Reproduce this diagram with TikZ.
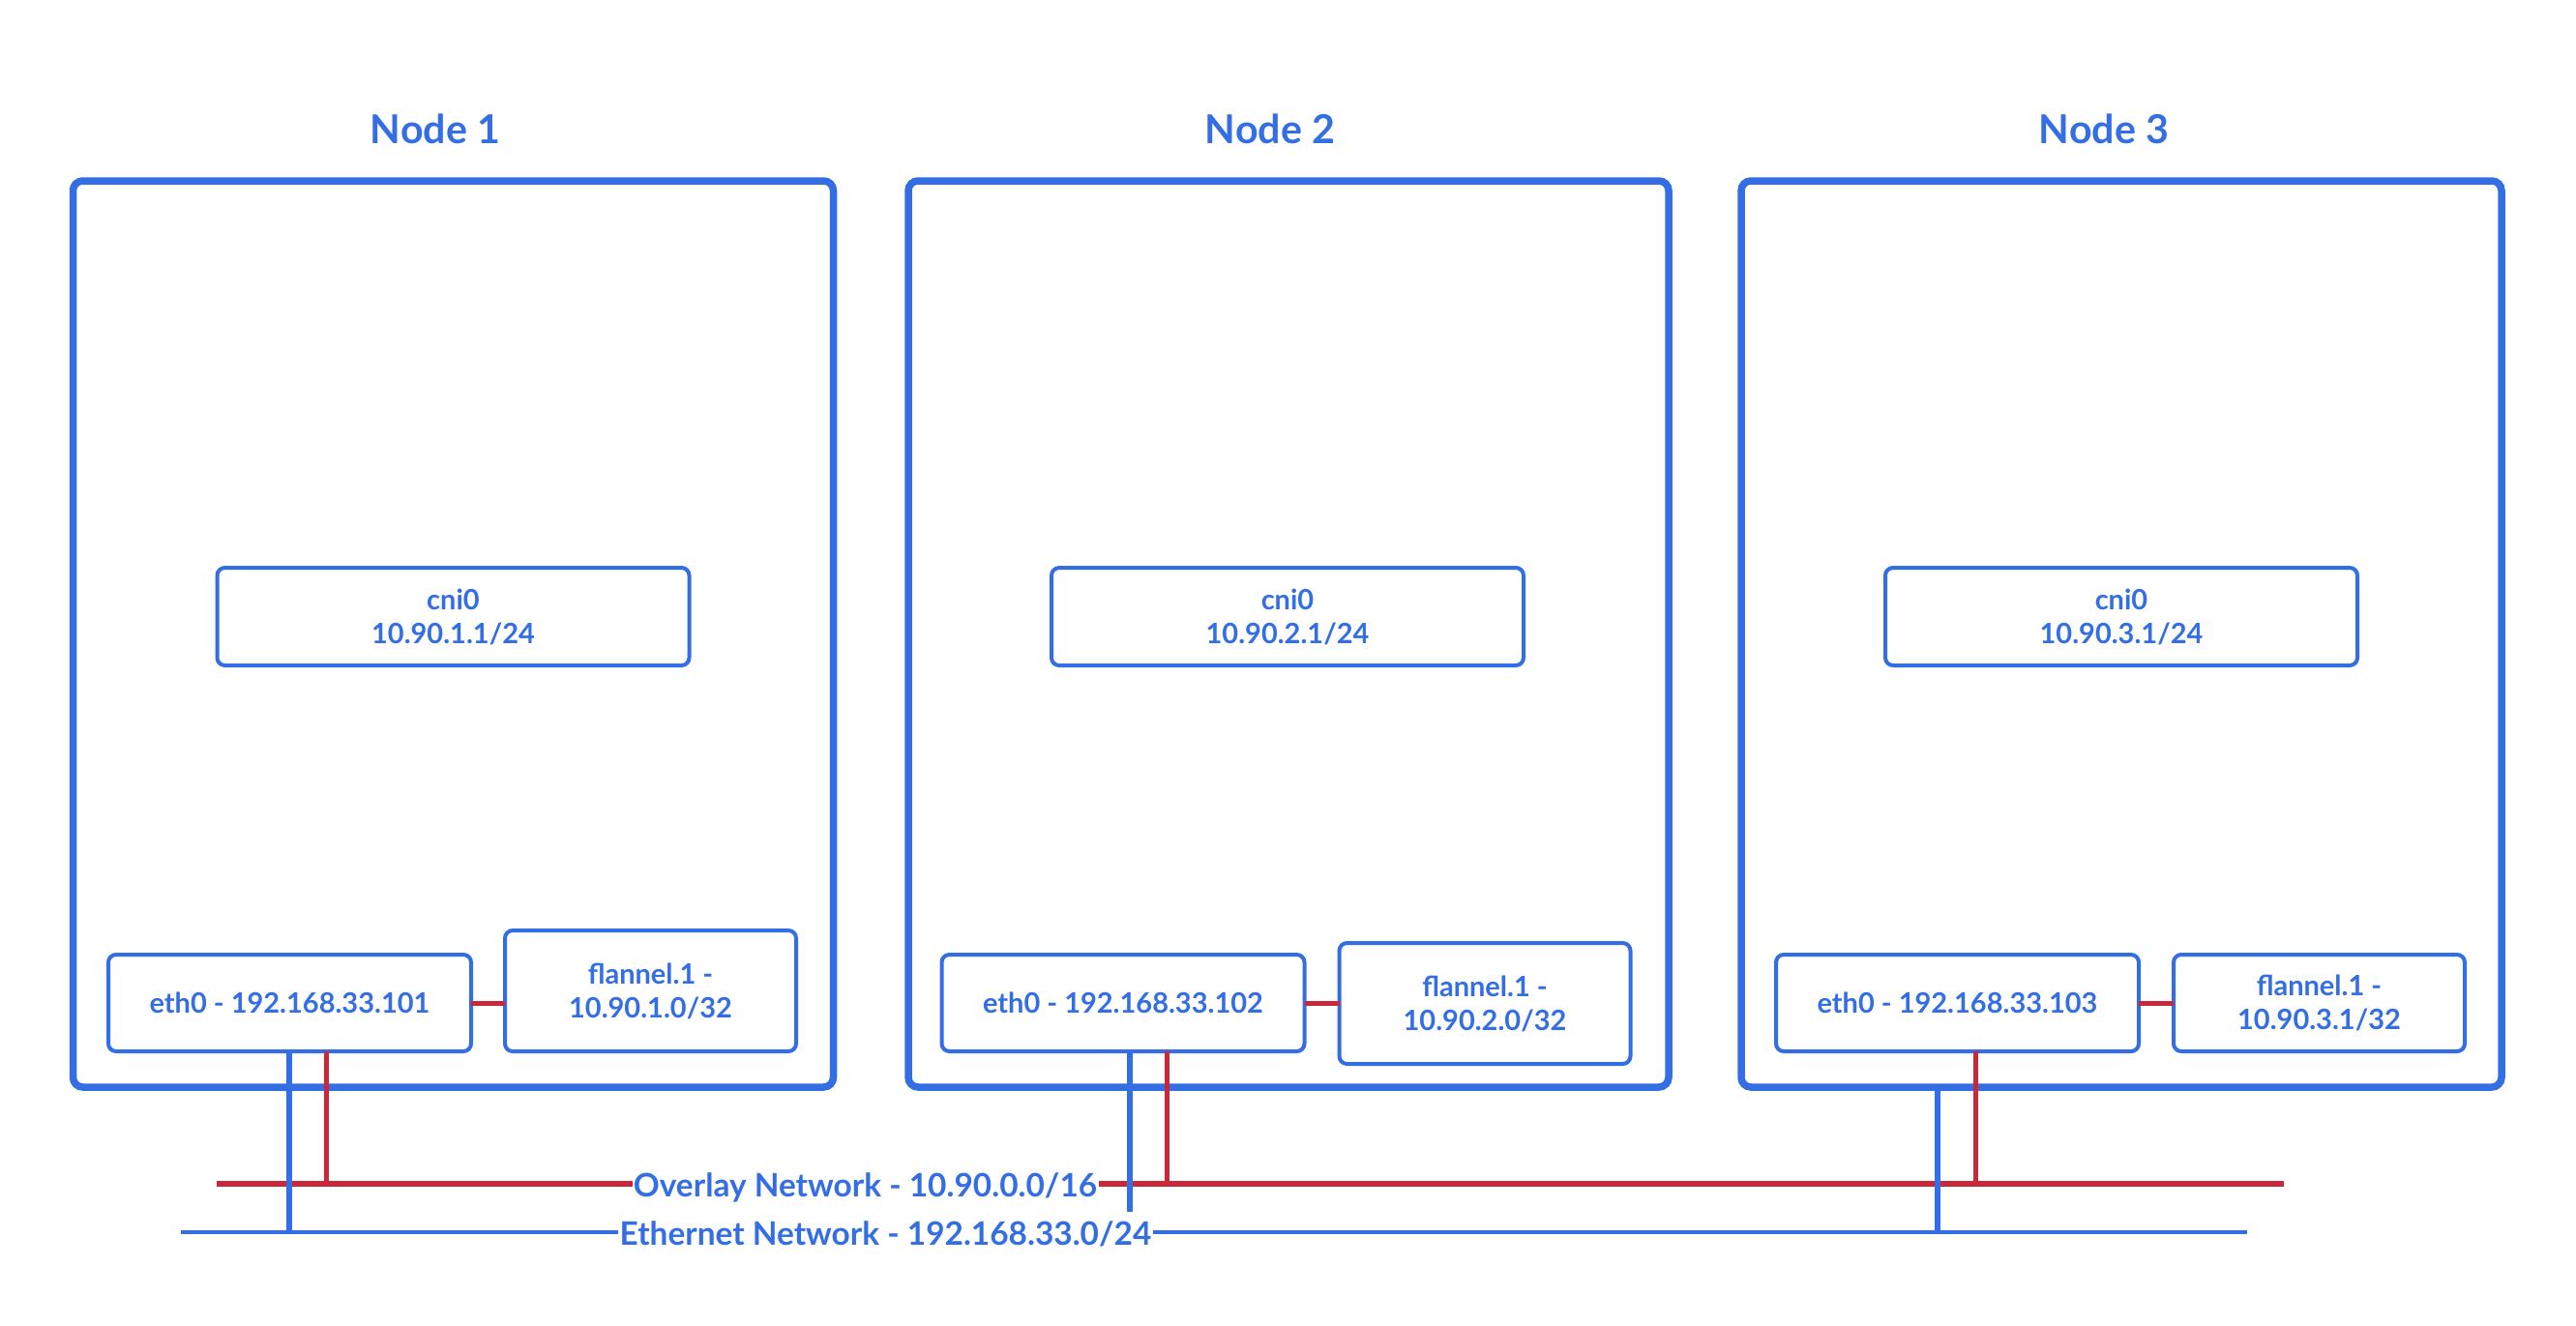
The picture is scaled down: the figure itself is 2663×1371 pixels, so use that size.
\documentclass[tikz,border=0pt]{standalone}
\usepackage{fontspec}
\setmainfont{Lato}
\definecolor{nblue}{RGB}{51,110,228}
\definecolor{nred}{RGB}{200,40,58}
\begin{document}
\begin{tikzpicture}[x=0.5pt,y=-0.5pt,
  hostbox/.style={draw=nblue, line width=3.75pt, rounded corners=5pt, minimum width=393pt, minimum height=468.5pt, inner sep=0pt, outer sep=0pt},
  ifbox/.style={draw=nblue, line width=2pt, rounded corners=4pt, inner sep=0pt, outer sep=0pt, text=nblue, font=\bfseries\fontsize{14.5}{17.5}\selectfont, align=center},
  cnibox/.style={ifbox, minimum width=244pt, minimum height=50.5pt},
  ethbox/.style={ifbox, minimum width=187.5pt, minimum height=50pt},
  flbox/.style={ifbox, minimum width=150.5pt},
  hosttitle/.style={text=nblue, font=\bfseries\fontsize{20.6}{25}\selectfont},
  netlabel/.style={text=nblue, font=\bfseries\fontsize{16.7}{20}\selectfont, inner sep=0.5pt, anchor=base},
  redlink/.style={draw=nred, line width=2.5pt},
  bluelink/.style={draw=nblue, line width=2.75pt},
  ovline/.style={draw=nred, line width=3pt},
  ethline/.style={draw=nblue, line width=2.25pt}
]
\useasboundingbox (0,0) rectangle (2663,1371);

% host boxes and titles
\node[hostbox] (n1) at (468.5,655.5) {};
\node[hostbox] (n2) at (1332,655.5) {};
\node[hostbox] (n3) at (2193,655.5) {};
\node[hosttitle] (t1) at (450,133) {Node 1};
\node[hosttitle] (t2) at (1313,133) {Node 2};
\node[hosttitle] (t3) at (2175,133) {Node 3};

% cni0 boxes
\node[cnibox] (c1) at (468.5,637.5) {cni0\\10.90.1.1/24};
\node[cnibox] (c2) at (1331,637.5) {cni0\\10.90.2.1/24};
\node[cnibox] (c3) at (2193,637.5) {cni0\\10.90.3.1/24};

% eth0 boxes
\node[ethbox] (e1) at (299.5,1037) {eth0 - 192.168.33.101};
\node[ethbox] (e2) at (1161,1037) {eth0 - 192.168.33.102};
\node[ethbox] (e3) at (2023.5,1037) {eth0 - 192.168.33.103};

% flannel boxes
\node[flbox, minimum height=62.5pt] (f1) at (672.5,1024.5) {flannel.1 -\\10.90.1.0/32};
\node[flbox, minimum height=62.5pt] (f2) at (1535,1037.5) {flannel.1 -\\10.90.2.0/32};
\node[flbox, minimum height=50pt] (f3) at (2397.5,1037) {flannel.1 -\\10.90.3.1/32};

% eth0 -- flannel links
\draw[redlink] (e1.east) -- (e1.east -| f1.west);
\draw[redlink] (e2.east) -- (e2.east -| f2.west);
\draw[redlink] (e3.east) -- (e3.east -| f3.west);

% networks
\coordinate (ovL) at (224,1224);
\coordinate (ovR) at (2361,1224);
\coordinate (ethL) at (187,1274);
\coordinate (ethR) at (2323,1274);
\node[netlabel] (ovlab) at (894.5,1237) {Overlay Network - 10.90.0.0/16};
\node[netlabel] (ethlab) at (915.5,1287) {Ethernet Network - 192.168.33.0/24};
\draw[ovline] (ovL) -- (ovL -| ovlab.west);
\draw[ovline] (ovL -| ovlab.east) -- (ovR);
\draw[ethline] (ethL) -- (ethL -| ethlab.west);
\draw[ethline] (ethL -| ethlab.east) -- (ethR);

% drops to the overlay network
\coordinate (r1) at (337,1224);
\coordinate (r2) at (1206,1224);
\coordinate (r3) at (2042,1224);
\draw[redlink] (r1 |- e1.south) -- (r1);
\draw[redlink] (r2 |- e2.south) -- (r2);
\draw[redlink] (r3 |- e3.south) -- (r3);

% drops to the ethernet network
\coordinate (b1) at (299,1274);
\coordinate (b2) at (1168,1253);
\coordinate (b3) at (2003,1274);
\draw[bluelink] (b1 |- e1.south) -- (b1);
\draw[bluelink] (b2 |- e2.south) -- (b2);
\draw[bluelink] (b3 |- n3.south) -- (b3);
\end{tikzpicture}
\end{document}
